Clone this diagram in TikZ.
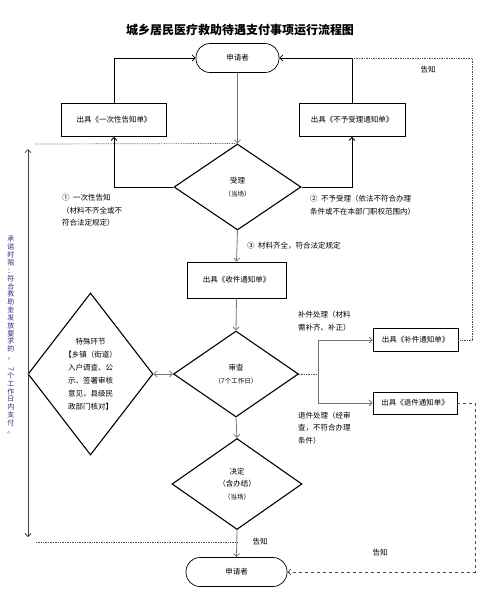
\documentclass[tikz,border=0pt]{standalone}
\usepackage{fontspec}
\setmainfont{Noto Sans CJK SC}
\usetikzlibrary{shapes.geometric}
\usetikzlibrary{arrows.meta}
\usetikzlibrary{calc}
\definecolor{limit blue}{RGB}{45,45,125}
\newcommand\subnote[1]{{\fontsize{6.5}{8}\selectfont #1}}
\tikzset{
    % Open arrow heads as used throughout the chart
    >={Straight Barb[length=3pt,width=6pt]},
%
    % Rounded start and end points
    terminal/.style={
        draw, rectangle, rounded corners=14pt, line width=0.7pt,
        minimum height=29pt, font=\fontsize{7.5}{9}\selectfont},
%
    % Plain document boxes
    doc box/.style={draw, rectangle, line width=0.8pt,
        font=\fontsize{7.5}{9}\selectfont},
%
    % Decision diamonds
    decision/.style={draw, diamond, line width=1.1pt, inner sep=0,
        align=center, font=\fontsize{7.5}{12.5}\selectfont},
%
    % Connectors
    main line/.style={draw, black!55, line width=0.8pt, ->},
    loop line/.style={draw, black, line width=0.8pt},
    notice line/.style={draw, black!70, densely dotted, line width=0.7pt},
%
    % Free text beside the lines
    note/.style={align=left, anchor=west, inner sep=1pt,
        font=\fontsize{7.5}{12.5}\selectfont}}

\begin{document}
\begin{tikzpicture}[x=1pt, y=-1pt]

% Page frame
\useasboundingbox (0,0) rectangle (482,598);

\node [font=\fontsize{12}{14}\selectfont\bfseries] (title) at (240,30)
    {城乡居民医疗救助待遇支付事项运行流程图};

% Acceptance
\node [terminal, minimum width=83pt] (app top) at (237.5,58) {申请者};
\node [doc box, minimum width=105pt, minimum height=33pt] (once) at (114,120)
    {出具《一次性告知单》};
\node [doc box, minimum width=106pt, minimum height=33pt] (refuse) at (352,120)
    {出具《不予受理通知单》};
\node [decision, minimum width=127pt, minimum height=86pt] (accept) at (237.5,187)
    {受理\\\subnote{（当场）}};

\draw [main line] (app top.south) -- (accept.north);
\draw [loop line, ->] (accept.west) -| (once.south);
\draw [loop line, ->] (once.north) |- (app top.west);
\draw [loop line, ->] (accept.east) -| (refuse.south);
\draw [loop line, ->] (refuse.north) |- (app top.east);

\node [note] (note one) at (61,210.5)
    {①\ \ 一次性告知\\（材料不齐全或不\\符合法定规定）};
\node [note] (note two) at (309,205)
    {②\ \ 不予受理（依法不符合办理\\条件或不在本部门职权范围内）};
\node [note] (note three) at (246,246) {③\ \ 材料齐全，符合法定规定};

% Review
\node [doc box, minimum width=99pt, minimum height=36pt] (receive) at (236.5,280)
    {出具《收件通知单》};
\node [decision, minimum width=125pt, minimum height=86pt] (review) at (236,374)
    {审查\\\subnote{（7个工作日）}};
\node [decision, minimum width=125pt, minimum height=162pt] (special) at (90.5,374) {};
\node [align=center, font=\fontsize{7.5}{13}\selectfont] (special text) at (90.5,374)
    {特殊环节\\【乡镇（街道）\\入户调查、公\\示、签署审核\\意见，县级民\\政部门核对】};
\node [doc box, minimum width=85pt, minimum height=23pt] (supply) at (415.5,340)
    {出具《补件通知单》};
\node [doc box, minimum width=84pt, minimum height=22pt] (return) at (415,403)
    {出具《退件通知单》};

\draw [main line] (accept.south) -- (receive.north);
\draw [main line] (receive.south) -- (review.north);
\draw [main line, <->] (special.east) -- (review.west);

\coordinate (split) at (318,374);
\draw [notice line] (review.east) -- (split);
\draw [main line] (split) |- (supply.west);
\draw [main line] (split) |- (return.west);

\node [note] (supply note) at (297,321) {补件处理（材料\\需补齐、补正）};
\node [note] (return note) at (297,428) {退件处理（经审\\查，不符合办理\\条件）};

% Decision
\node [decision, minimum width=130pt, minimum height=91pt] (decide) at (237,484)
    {决定\\（含办结）\\\subnote{（当场）}};
\node [terminal, minimum width=101pt] (app bottom) at (236.5,572) {申请者};
\draw [main line] (review.south) -- (decide.north);
\draw [main line] (decide.south) -- (app bottom.north);

% Notices back to the applicant
\coordinate (notice corner) at (472,58);
\draw [notice line] (supply.east) -| (notice corner) -- (refuse.north |- notice corner);
\node [font=\fontsize{7.5}{9}\selectfont] (notice top) at (428,70) {告知};

\coordinate (return corner) at (475,572);
\draw [notice line, dashed, ->] (return.east) -| (return corner) -- (app bottom.east);
\node [font=\fontsize{7.5}{9}\selectfont] (notice right) at (380,553) {告知};
\node [font=\fontsize{7.5}{9}\selectfont] (notice bottom) at (260,542) {告知};

% Time limit span
\coordinate (limit top) at (35,144);
\coordinate (limit bottom) at (36,542);
\draw [notice line] (limit top) -- (accept.north);
\draw [notice line] (limit bottom) -- (limit bottom -| decide.south);
\coordinate (span top) at (28,149);
\coordinate (span bottom) at (28,537);
\draw [loop line, black!75, <->] (span top) -- (span bottom);
\node [align=center, inner sep=0, text=limit blue,
    font=\fontsize{7}{7.85}\selectfont] (limit text) at (11,335)
    {承\\诺\\时\\限\\：\\符\\合\\救\\助\\金\\发\\放\\要\\求\\的\\，\\\rotatebox{-90}{7}\\个\\工\\作\\日\\内\\支\\付\\。};

\end{tikzpicture}
\end{document}
